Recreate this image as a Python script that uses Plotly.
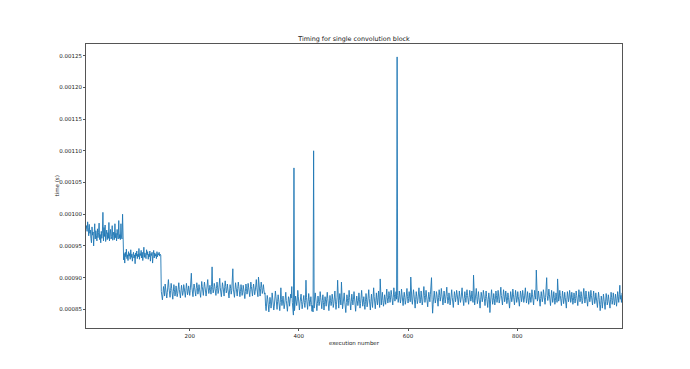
import numpy as np
import plotly.graph_objects as go

# execution numbers start here (one sample per execution)
x_start = 10

# timings in microseconds, per phase
time_us_phase1 = [
    977, 982, 973, 988, 979, 966, 984, 970, 975, 962,
    955, 980, 967, 972, 950, 969, 985, 961, 974, 966,
    958, 977, 963, 971, 986, 960, 968, 955, 973, 962,
    970, 1003, 958, 979, 965, 983, 957, 968, 975, 960,
    971, 962, 987, 958, 969, 976, 961, 965, 982, 959,
    967, 972, 960, 985, 963, 970, 958, 976, 966, 961,
    990, 962, 968, 960, 985, 964, 961, 1000,
]

time_us_phase2 = [
    948, 928, 938, 923, 940, 933, 945, 930, 936, 927,
    941, 934, 938, 929, 944, 932, 937, 926, 935, 940,
    931, 936, 922, 939, 934, 942, 930, 937, 933, 946,
    929, 938, 935, 943, 931, 940, 927, 936, 948, 932,
    939, 934, 930, 944, 936, 941, 929, 937, 933, 942,
    926, 938, 935, 940, 923, 936, 943, 931, 939, 934,
    937, 930, 941, 933, 938, 936, 940, 934, 937, 935,
]

time_us_phase3 = [
    878, 870, 865, 874, 886, 880, 871, 890, 882, 873,
    868, 877, 888, 897, 884, 874, 869, 880, 891, 883,
    872, 866, 878, 889, 881, 871, 876, 887, 879, 870,
    875, 886, 892, 881, 873, 868, 879, 888, 880, 872,
    877, 889, 884, 874, 869, 880, 891, 883, 873, 878,
    887, 881, 872, 880, 893, 907, 885, 875, 870, 882,
    890, 884, 876, 871, 883, 892, 885, 874, 879, 889,
    882, 873, 869, 881, 894, 886, 876, 872, 884, 893,
    886, 877, 871, 879, 890, 897, 884, 875, 880, 888,
    881, 874, 886, 917, 884, 876, 881, 891, 886, 877,
    872, 883, 893, 885, 875, 879, 890, 899, 884, 874,
    870, 881, 892, 886, 876, 871, 884, 895, 886, 876,
    880, 890, 882, 873, 868, 879, 889, 883, 874, 880,
    891, 914, 882, 873, 869, 881, 892, 885, 875, 871,
    883, 893, 886, 876, 870, 878, 889, 882, 872, 877,
    888, 882, 872, 867, 878, 890, 883, 874, 879, 891,
    884, 874, 870, 881, 893, 886, 876, 871, 883, 890,
    882, 873, 878, 889, 897, 884, 875, 870, 901, 886,
    876, 871, 883, 893, 885, 875, 880, 889, 881, 874,
    876,
]

time_us_phase4 = [
    855, 848, 860, 872, 866, 851, 846, 858, 869, 863,
    852, 860, 876, 868, 857, 849, 855, 866, 879, 870,
    858, 850, 862, 873, 865, 854, 848, 861, 884, 866,
    856, 863, 871, 860, 851, 857, 869, 877, 864, 853,
    847, 859, 870, 866, 855, 862, 874, 868, 886, 861,
    852, 841, 1073, 848, 858, 871, 865, 856, 863, 880,
    870, 857, 849, 860, 868, 874, 862, 851, 858, 866,
    872, 861, 853, 864, 896, 869, 857, 850, 862, 875,
    866, 855, 861, 870, 858, 847, 856, 846, 1100, 852,
    868, 876, 863, 853, 848, 859, 871, 865, 856, 862,
    878, 869, 857, 851, 864, 873, 861, 849, 858, 870,
    863, 855, 866, 877, 867, 854, 848, 860, 872, 864,
    856, 862, 874, 866, 853, 859, 871, 879, 863, 850,
    858, 869, 896, 861, 852, 864, 875, 866, 857, 893,
    862, 851, 858, 870, 876, 863, 852, 845, 861, 873,
    867, 856, 864, 880, 869, 855, 849, 862, 874, 865,
    857, 866, 878, 868, 854, 847, 860, 871, 864, 856,
    863, 876, 866, 852, 859, 873, 880, 867, 855, 861,
    870, 858, 850, 862, 875, 866, 854, 860, 872, 881,
    867, 855, 849, 863, 874, 862, 853, 868, 884, 870,
    858, 851, 864, 876, 865, 857, 869, 879, 863, 853,
    898, 865, 857, 868, 877, 864, 855, 861, 873, 866,
    858, 870, 882, 869, 860, 866, 878, 872, 861, 868,
    880, 873, 862, 857, 869, 884, 874, 863, 870, 878,
    866, 1248, 872, 861, 868, 879, 871, 860, 866, 882,
    874, 862, 856, 868, 877, 869, 858, 864, 876, 883,
    870, 860, 867, 878, 871, 862, 901, 874, 864, 858,
    869, 881, 873, 861, 852, 866, 878, 870, 859, 864,
    875, 884, 871, 860, 866, 879, 868, 857, 863, 876,
    886, 872, 861, 869, 880, 871, 858, 854, 866, 877,
    870, 862, 874, 882, 900, 866, 844, 858, 871, 879,
    868, 860, 866, 878, 873, 861, 855, 869, 881, 872,
    863, 870, 883, 874, 862, 857, 868, 879, 871, 860,
    866, 877, 885, 870, 859, 864, 876, 868, 857, 863,
    874, 881, 869, 858, 853, 866, 878, 872, 862, 869,
    880, 874, 863, 857, 868, 879, 870, 861, 866, 877,
    884, 871, 860, 856, 867, 878, 869, 861, 872, 881,
    872, 862, 858, 869, 880, 873, 863, 868, 879, 870,
    861, 904, 868, 857, 864, 876, 883, 870, 859, 866,
    878, 869, 858, 852, 865, 877, 871, 862, 868, 880,
    873, 861, 856, 867, 879, 870, 859, 853, 866, 876,
    868, 845, 860, 872, 881, 869, 858, 864, 875, 867,
    857, 866, 879, 872, 861, 868, 880, 871, 860, 865,
    877, 885, 872, 862, 857, 870, 881, 873, 862, 868,
    879, 870, 859, 864, 876, 869, 857, 852, 866, 878,
    871, 862, 868, 882, 874, 863, 857, 869, 880, 872,
    861, 866, 878, 870, 859, 855, 867, 879, 873, 862,
    868, 880, 872, 861, 866, 877, 884, 871, 860, 867,
    878, 869, 858, 864, 876, 870, 861, 868, 881, 873,
    862, 857, 869, 880, 872, 866, 912, 874, 863, 868,
    879, 871, 860, 855, 867, 878, 870, 862, 868, 881,
    874, 863, 858, 869, 879, 900, 872, 864, 870, 882,
    873, 862, 856, 868, 880, 871, 861, 867, 878, 869,
    858, 864, 876, 870, 861, 898, 874, 863, 868, 880,
    872, 861, 856, 867, 879, 870, 859, 865, 877, 869,
    857, 852, 866, 878, 871, 862, 868, 880, 873, 861,
    866, 877, 869, 858, 864, 876, 870, 860, 867, 879,
    872, 861, 856, 868, 881, 873, 862, 867, 878, 870,
    859, 864, 876, 883, 871, 860, 866, 879, 870, 861,
    855, 867, 878, 871, 862, 868, 880, 872, 861, 857,
    869, 879, 870, 859, 864, 876, 868, 857, 853, 866,
    877, 869, 860, 848, 858, 871, 864, 852, 862, 874,
    866, 855, 850, 863, 875, 868, 857, 862, 873, 866,
    856, 852, 865, 877, 869, 858, 864, 876, 868, 857,
    862, 874, 867, 855, 864, 878, 870, 861, 873, 888,
    866, 872, 861, 876,
]

y_tick_vals = [0.00085, 0.00090, 0.00095, 0.00100, 0.00105, 0.00110, 0.00115, 0.00120, 0.00125]
x_tick_vals = [200, 400, 600, 800]

time_us = np.array(time_us_phase1 + time_us_phase2 + time_us_phase3 + time_us_phase4, dtype=float)
time_s = time_us * 1e-6
execution = np.arange(x_start, x_start + len(time_s))

ymin, ymax = time_s.min(), time_s.max()
pad = 0.05 * (ymax - ymin)

FONT = "DejaVu Sans"
axis_common = dict(
    showgrid=False, zeroline=False, showline=True, mirror=True,
    linecolor="#555555", linewidth=0.8,
    ticks="outside", ticklen=2, tickwidth=0.6, tickcolor="#555555",
    tickfont=dict(family=FONT, size=5.5, color="#222222"),
)

# page body has an 8px default margin, so the figure is 8px smaller
W, H = 682, 361
fig = go.Figure()
fig.add_trace(go.Scatter(
    x=execution, y=time_s, mode="lines",
    line=dict(color="#1f77b4", width=0.9),
    showlegend=False, hoverinfo="x+y",
))

fig.update_layout(
    width=W, height=H,
    margin=dict(l=78, r=68, t=36, b=41),
    paper_bgcolor="white", plot_bgcolor="white",
    font=dict(family=FONT, color="#222222"),
    title=dict(text="Timing for single convolution block",
               font=dict(family=FONT, size=6.4, color="#111111"),
               x=0.5, xref="paper", xanchor="center",
               y=1 - 31 / H, yref="container", yanchor="middle"),
    xaxis=dict(range=[execution.min(), execution.max()],
               tickvals=x_tick_vals, **axis_common),
    yaxis=dict(range=[ymin - pad, ymax + pad],
               tickvals=y_tick_vals, tickformat=".5f", **axis_common),
    annotations=[
        dict(text="execution number", xref="paper", yref="paper",
             x=0.5, y=-(342.5 - 328) / 284, xanchor="center", yanchor="middle",
             showarrow=False, font=dict(family=FONT, size=5.5, color="#222222")),
        dict(text="time (s)", xref="paper", yref="paper",
             x=-(86 - 56.5) / 536, y=0.5, xanchor="center", yanchor="middle",
             textangle=-90, showarrow=False,
             font=dict(family=FONT, size=5.5, color="#222222")),
    ],
)

fig.write_html("out.html")
